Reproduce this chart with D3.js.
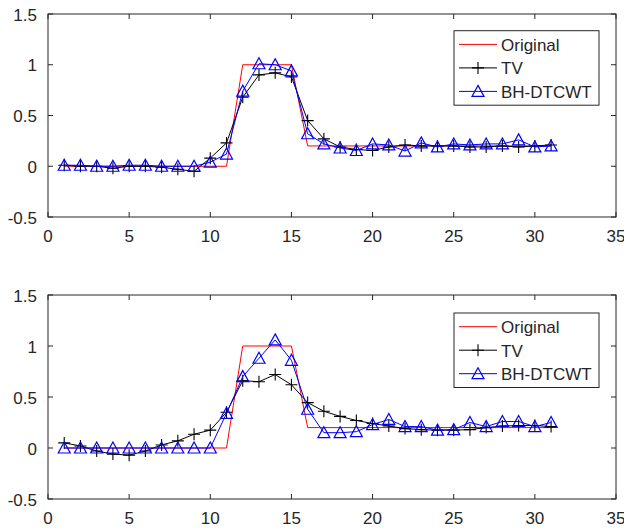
<!DOCTYPE html>
<html>
<head>
<meta charset="utf-8">
<script src="https://cdn.jsdelivr.net/npm/d3@7"></script>
<style>
  body { margin: 0; background: #fff; }
  svg text { font-family: "Liberation Sans", Arial, sans-serif; fill: #262626; }
</style>
</head>
<body>
<div class="chart"></div>
<script>
// sample index 1..31
const xs = d3.range(1, 32);

const original = [0,0,0,0,0,0,0,0,0,0,0,1,1,1,1,
  0.2,0.2,0.2,0.2,0.2,0.2,0.2,0.2,0.2,0.2,0.2,0.2,0.2,0.2,0.2,0.2];

// top panel
const tvTop = [0.01,0,0,-0.02,0,0,-0.01,-0.03,-0.05,0.08,0.23,0.68,0.90,0.92,0.88,
  0.45,0.27,0.19,0.165,0.155,0.19,0.21,0.20,0.20,0.20,0.19,0.19,0.20,0.19,0.20,0.21];
const bhTop = [0.01,0.01,0,0,0.01,0.01,0,0,0,0.04,0.12,0.74,1.01,1.0,0.94,
  0.32,0.22,0.18,0.155,0.22,0.21,0.15,0.23,0.19,0.22,0.21,0.22,0.22,0.26,0.19,0.20];

// bottom panel
const tvBot = [0.05,0.02,-0.03,-0.06,-0.07,-0.03,0.03,0.07,0.135,0.175,0.35,0.66,0.65,0.72,0.62,
  0.445,0.36,0.31,0.27,0.24,0.215,0.19,0.18,0.175,0.175,0.18,0.20,0.215,0.22,0.22,0.21];
const bhBot = [0,0,0,0,0,0,0,0,0,0,0.34,0.70,0.88,1.06,0.86,
  0.38,0.15,0.15,0.16,0.23,0.28,0.21,0.21,0.175,0.18,0.25,0.21,0.26,0.26,0.21,0.25];

const xTicks = [0,5,10,15,20,25,30,35];
const yTicks = [-0.5,0,0.5,1,1.5];
const legendNames = ["Original","TV","BH-DTCWT"];

const W = 624, H = 529;
const svg = d3.select(".chart").append("svg")
    .attr("width", W)
    .attr("height", H);

const axisColor = "#262626";
const fontSize = 17;

function plus(g, x, y) {
  g.append("path")
    .attr("d", `M${x-6},${y}H${x+6}M${x},${y-6}V${y+6}`)
    .attr("stroke", "#000").attr("stroke-width", 1.1).attr("fill", "none");
}
function tri(g, x, y) {
  g.append("path")
    .attr("d", `M${x},${y-6}L${x+6},${y+5}L${x-6},${y+5}Z`)
    .attr("stroke", "#0000ff").attr("stroke-width", 1.2).attr("fill", "none");
}

function panel(top, bottom, tv, bh, legTop) {
  const left = 48, right = 616;
  const x = d3.scaleLinear().domain([0, 35]).range([left, right]);
  const y = d3.scaleLinear().domain([-0.5, 1.5]).range([bottom, top]);
  const g = svg.append("g");

  // ticks (inside, on all four sides)
  const tk = 5;
  xTicks.forEach(t => {
    g.append("line").attr("x1", x(t)).attr("x2", x(t)).attr("y1", bottom).attr("y2", bottom - tk)
      .attr("stroke", axisColor);
    g.append("line").attr("x1", x(t)).attr("x2", x(t)).attr("y1", top).attr("y2", top + tk)
      .attr("stroke", axisColor);
    g.append("text").attr("x", x(t)).attr("y", bottom + 25)
      .attr("text-anchor", "middle").attr("font-size", fontSize).text(t);
  });
  yTicks.forEach(t => {
    g.append("line").attr("x1", left).attr("x2", left + tk).attr("y1", y(t)).attr("y2", y(t))
      .attr("stroke", axisColor);
    g.append("line").attr("x1", right).attr("x2", right - tk).attr("y1", y(t)).attr("y2", y(t))
      .attr("stroke", axisColor);
    g.append("text").attr("x", 37).attr("y", y(t) + 6.5)
      .attr("text-anchor", "end").attr("font-size", fontSize).text(t);
  });

  const line = d3.line().x((d, i) => x(xs[i])).y(d => y(d));

  g.append("path").datum(original).attr("d", line)
    .attr("fill", "none").attr("stroke", "#ff0000").attr("stroke-width", 1);

  g.append("path").datum(tv).attr("d", line)
    .attr("fill", "none").attr("stroke", "#000").attr("stroke-width", 1);
  tv.forEach((d, i) => plus(g, x(xs[i]), y(d)));

  g.append("path").datum(bh).attr("d", line)
    .attr("fill", "none").attr("stroke", "#0000ff").attr("stroke-width", 1);
  bh.forEach((d, i) => tri(g, x(xs[i]), y(d)));

  // box
  g.append("rect").attr("x", left).attr("y", top)
    .attr("width", right - left).attr("height", bottom - top)
    .attr("fill", "none").attr("stroke", axisColor).attr("stroke-width", 1);

  // legend
  const lg = g.append("g");
  lg.append("rect").attr("x", 454).attr("y", legTop).attr("width", 145).attr("height", 74.5)
    .attr("fill", "#fff").attr("stroke", axisColor).attr("stroke-width", 1);
  const colors = ["#ff0000", "#000", "#0000ff"];
  legendNames.forEach((name, i) => {
    const ly = legTop + 13.7 + i * 23.5;
    lg.append("line").attr("x1", 459).attr("x2", 497).attr("y1", ly).attr("y2", ly)
      .attr("stroke", colors[i]).attr("stroke-width", 1);
    if (i === 1) plus(lg, 478, ly);
    if (i === 2) tri(lg, 478, ly);
    lg.append("text").attr("x", 501).attr("y", ly + 6.5)
      .attr("font-size", 17).text(name);
  });
}

panel(14, 217, tvTop, bhTop, 30.7);
panel(295, 499, tvBot, bhBot, 313);
</script>
</body>
</html>
